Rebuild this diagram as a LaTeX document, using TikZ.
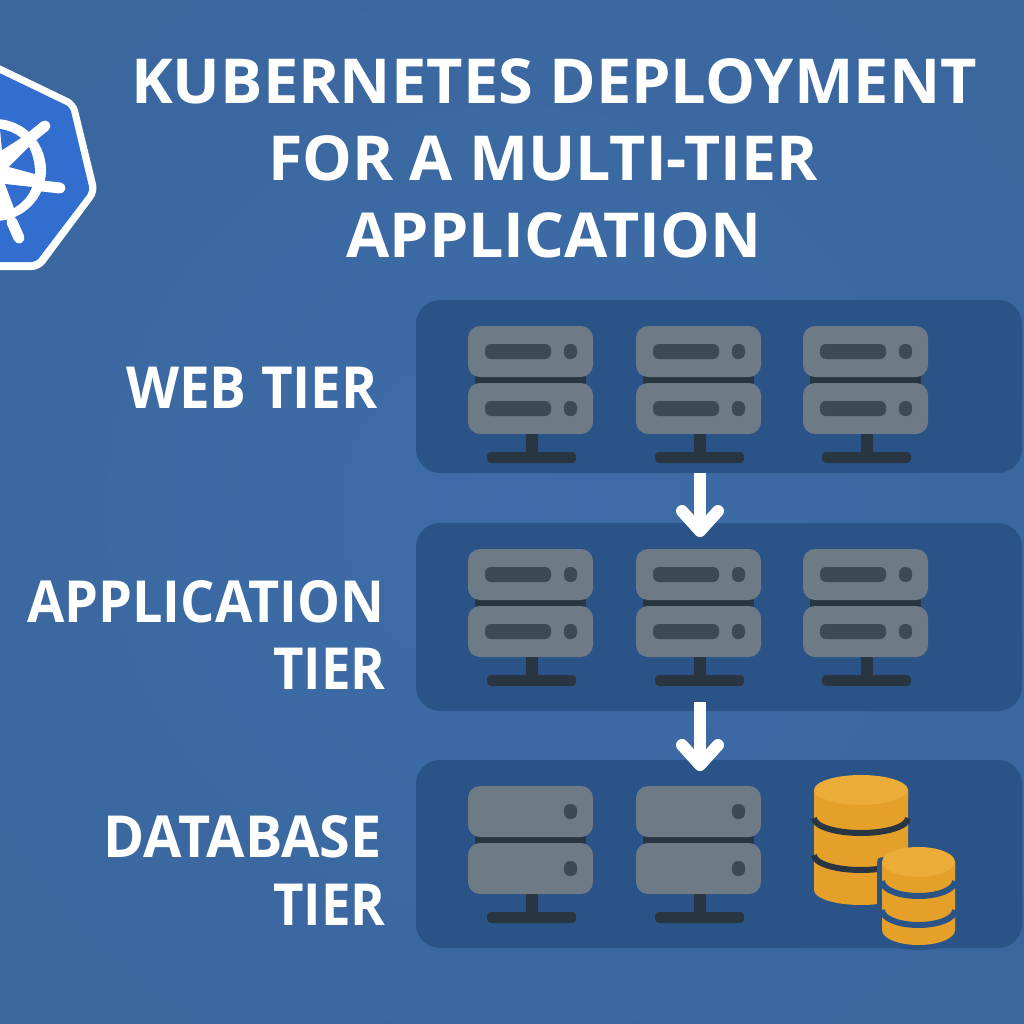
\documentclass[tikz,border=0pt]{standalone}
\usepackage{fontspec}
\setmainfont{Open Sans}
\usetikzlibrary{arrows.meta}
\definecolor{bgout}{HTML}{39659B}
\definecolor{bgin}{HTML}{3D6CA8}
\definecolor{panelc}{HTML}{2A5488}
\definecolor{srv}{HTML}{6F7A87}
\definecolor{srvd}{HTML}{3C4A56}
\definecolor{stand}{HTML}{2A3542}
\definecolor{kblue}{HTML}{326DD0}
\definecolor{goldtop}{HTML}{EBAC38}
\definecolor{gold}{HTML}{E5A029}
\tikzset{
 panel/.style={fill=panelc,rounded corners=24pt,draw=none},
 unit/.style={fill=srv,rounded corners=12pt,draw=none},
 slotbar/.style={fill=srvd,rounded corners=6pt,draw=none},
 txt/.style={text=white,anchor=base,inner sep=0pt,font=\bfseries\fontsize{62}{70}\selectfont},
 lbl/.style={text=white,anchor=base east,inner sep=0pt,font=\bfseries\fontsize{58}{66}\selectfont},
 flow/.style={white,line width=12pt,-{Straight Barb[round,length=20pt,width=36pt,line width=12pt]}},
}
\newcommand\narrow[2]{\scalebox{#1}[1]{#2}}
% #1 x offset, #2 y offset, #3 with slot bars (1/0)
\newcommand\srvicon[3]{%
 \begin{scope}[shift={(#1,#2)}]
  \fill[stand] (475,376) rectangle (586,384);
  \fill[unit] (468,326) rectangle (593,377);
  \fill[unit] (468,383) rectangle (593,434);
  \fill[stand] (526,434) rectangle (538,453);
  \fill[stand,rounded corners=4pt] (487,452) rectangle (576,463);
  \ifnum#3=1
   \fill[slotbar] (485,344) rectangle (551,359);
   \fill[slotbar] (485,401) rectangle (551,416);
  \fi
  \fill[slotbar] (564,344) rectangle (577,359);
  \fill[slotbar] (564,401) rectangle (577,416);
 \end{scope}}
% database body: #1 left, #2 right, #3 top-ellipse centre y, #4 ry, #5 bottom side y, #6,#7 band side y, #8 band colour, #9 band width
\newcommand\dbicon[9]{%
 \pgfmathsetmacro\cxx{(#1+#2)/2}\pgfmathsetmacro\rxx{(#2-#1)/2}%
 \fill[gold] (#1,#3) -- (#1,#5) arc[start angle=180,end angle=0,x radius=\rxx,y radius=#4] -- (#2,#3) -- cycle;
 \fill[goldtop] (\cxx,#3) ellipse[x radius=\rxx,y radius=#4];
 \fill[gold] (#1,#3) arc[start angle=180,end angle=0,x radius=\rxx,y radius=#4] -- (#2,#3+8) arc[start angle=0,end angle=180,x radius=\rxx,y radius=#4] -- cycle;
 \draw[#8,line width=#9] (#1,#6) arc[start angle=180,end angle=0,x radius=\rxx,y radius=#4];
 \draw[#8,line width=#9] (#1,#7) arc[start angle=180,end angle=0,x radius=\rxx,y radius=#4];}
\begin{document}
\begin{tikzpicture}[x=1pt,y=-1pt]
\useasboundingbox (0,0) rectangle (1024,1024);
\clip (0,0) rectangle (1024,1024);
\shade[inner color=bgin,outer color=bgout] (-300,-300) rectangle (1324,1324);
% logo
\fill[white,rounded corners=8pt] (-40,46) -- (76,102) -- (98,192) -- (40,270) -- (-40,270) -- cycle;
\fill[kblue,rounded corners=5pt] (-40,54) -- (70,107) -- (90,191) -- (36,262) -- (-40,262) -- cycle;
\fill[white] (-5,170) circle (51);
\draw[white,line width=11pt,line cap=round] (30,138) -- (45,126);
\draw[white,line width=11pt,line cap=round] (42,186) -- (60,188);
\draw[white,line width=11pt,line cap=round] (12,222) -- (19,238);
\fill[kblue] (0,129) .. controls (8,130) and (15,133) .. (21,138) -- (2,150) -- cycle;
\fill[kblue] (29,147) .. controls (33,155) and (35,164) .. (35,174) -- (9,167) -- cycle;
\fill[kblue] (5,184) -- (32,187) .. controls (29,196) and (22,203) .. (14,208) -- cycle;
% title
\node[txt] (t1) at (554,104) {\narrow{1.017}{KUBERNETES DEPLOYMENT}};
\node[txt] (t2) at (543,181) {\narrow{1.01}{FOR A MULTI-TIER}};
\node[txt] (t3) at (554,258) {\narrow{1.012}{APPLICATION}};
% labels
\node[lbl] (l1) at (378,408) {\narrow{0.945}{WEB TIER}};
\node[lbl] (l2) at (385,622) {\narrow{0.932}{APPLICATION}};
\node[lbl] (l3) at (386,689) {\narrow{0.91}{TIER}};
\node[lbl] (l4) at (382,857) {\narrow{0.96}{DATABASE}};
\node[lbl] (l5) at (386,925) {\narrow{0.91}{TIER}};
% panels
\fill[panel] (416,300) rectangle (1022,473);
\fill[panel] (416,523) rectangle (1022,711);
\fill[panel] (416,760) rectangle (1022,948);
% servers
\srvicon{0}{0}{1}\srvicon{168}{0}{1}\srvicon{335}{0}{1}
\srvicon{0}{223}{1}\srvicon{168}{223}{1}\srvicon{335}{223}{1}
\srvicon{0}{460}{0}\srvicon{168}{460}{0}
% databases
\dbicon{814}{908}{790}{15}{890}{818}{855}{stand}{6pt}
\draw[panelc,line width=10pt,line join=round,fill=panelc] (882,862) -- (882,930) arc[start angle=180,end angle=0,x radius=36.5,y radius=15] -- (955,862) arc[start angle=0,end angle=180,x radius=36.5,y radius=15] -- cycle;
\dbicon{882}{955}{862}{15}{930}{881}{910}{panelc}{6pt}
% arrows
\coordinate (a1s) at (700,473);\coordinate (a1e) at (700,537);
\coordinate (a2s) at (700,702);\coordinate (a2e) at (700,771);
\draw[flow] (a1s) -- (a1e);
\draw[flow] (a2s) -- (a2e);
\end{tikzpicture}
\end{document}
